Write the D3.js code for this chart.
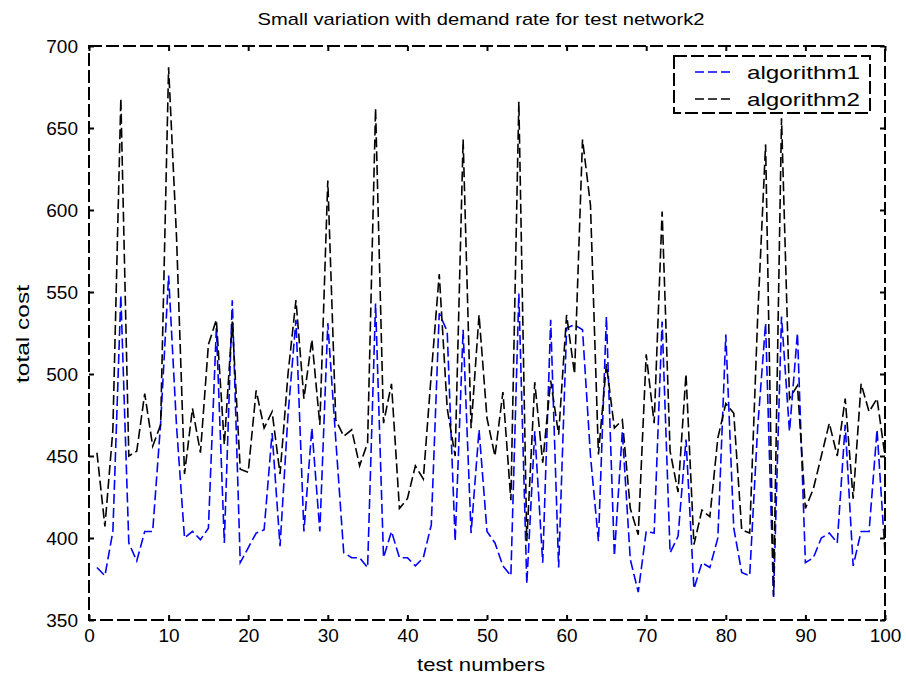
<!DOCTYPE html>
<html>
<head>
<meta charset="utf-8">
<script src="https://cdn.jsdelivr.net/npm/d3@7"></script>
<style>
  body { margin: 0; background: #fff; }
  svg text { font-family: "Liberation Sans", Arial, sans-serif; fill: #000; }
</style>
</head>
<body>
<div id="chart"></div>
<script>
// DATA
const testNumbers = d3.range(1, 101);
const algorithm1 = [
    382, 377, 404, 548, 397, 386, 404, 404, 470, 560,
    468, 400, 404, 399, 406, 528, 397, 545, 385, 394,
    403, 405, 464, 395, 475, 533, 404, 467, 404, 531,
    460, 391, 388, 388, 382, 543, 388, 404, 388, 388,
    383, 388, 408, 537, 526, 398, 527, 403, 466, 404,
    397, 383, 377, 549, 372, 465, 385, 533, 382, 528,
    530, 527, 450, 398, 535, 389, 465, 387, 367, 404,
    403, 532, 391, 401, 460, 369, 385, 382, 400, 524,
    406, 379, 377, 467, 531, 364, 535, 465, 525, 385,
    388, 400, 403, 397, 469, 383, 404, 404, 466, 391
];
const algorithm2 = [
    452, 407, 466, 668, 450, 453, 488, 456, 469, 687,
    583, 439, 479, 452, 518, 533, 457, 532, 442, 440,
    490, 467, 477, 439, 500, 545, 485, 521, 469, 618,
    472, 462, 466, 444, 458, 662, 470, 494, 418, 424,
    444, 436, 500, 561, 479, 450, 643, 467, 536, 473,
    450, 489, 423, 666, 398, 495, 446, 496, 463, 536,
    500, 643, 603, 451, 506, 467, 472, 418, 402, 512,
    470, 599, 453, 428, 500, 396, 417, 413, 461, 482,
    476, 405, 403, 534, 640, 365, 656, 485, 493, 418,
    430, 450, 470, 450, 485, 424, 494, 477, 485, 450
];
const seriesNames = ["algorithm1", "algorithm2"];
const seriesColors = ["#0000ff", "#000000"];
const xTicks = [0, 10, 20, 30, 40, 50, 60, 70, 80, 90, 100];
const yTicks = [350, 400, 450, 500, 550, 600, 650, 700];

// CHART VARIABLES
const width = 906;
const height = 682;
const margin = {top: 46, right: 21, bottom: 62, left: 89};
const plotW = width - margin.left - margin.right;
const plotH = height - margin.top - margin.bottom;

const svg = d3.select("#chart")
    .append("svg")
        .attr("width", width)
        .attr("height", height);

const xScale = d3.scaleLinear().domain([0, 100]).range([margin.left, margin.left + plotW]);
const yScale = d3.scaleLinear().domain([350, 700]).range([margin.top + plotH, margin.top]);

// lines
const line = d3.line()
    .x((d, i) => xScale(testNumbers[i]))
    .y(d => yScale(d));

[algorithm1, algorithm2].forEach((values, k) => {
    svg.append("path")
        .datum(values)
        .attr("d", line)
        .attr("fill", "none")
        .attr("stroke", seriesColors[k])
        .attr("stroke-width", 1.6)
        .attr("stroke-dasharray", "10,4");
});

// axes, ticks pointing inward on all four sides
const fmt = d3.format("d");
svg.append("g")
    .attr("transform", `translate(0,${margin.top + plotH})`)
    .call(d3.axisBottom(xScale).tickValues(xTicks).tickSize(-5).tickPadding(9).tickFormat(fmt))
    .call(g => g.select(".domain").remove());
svg.append("g")
    .attr("transform", `translate(0,${margin.top})`)
    .call(d3.axisTop(xScale).tickValues(xTicks).tickSize(-5).tickFormat(""))
    .call(g => g.select(".domain").remove());
svg.append("g")
    .attr("transform", `translate(${margin.left},0)`)
    .call(d3.axisLeft(yScale).tickValues(yTicks).tickSize(-5).tickPadding(11).tickFormat(fmt))
    .call(g => g.select(".domain").remove());
svg.append("g")
    .attr("transform", `translate(${margin.left + plotW},0)`)
    .call(d3.axisRight(yScale).tickValues(yTicks).tickSize(-5).tickFormat(""))
    .call(g => g.select(".domain").remove());

svg.selectAll(".tick line").attr("stroke", "#000").attr("stroke-width", 2);
svg.selectAll(".tick text")
    .style("font-family", "'Liberation Sans', Arial, sans-serif")
    .style("font-size", "19px");

// dashed frame
svg.append("rect")
    .attr("x", margin.left)
    .attr("y", margin.top)
    .attr("width", plotW)
    .attr("height", plotH)
    .attr("fill", "none")
    .attr("stroke", "#000")
    .attr("stroke-width", 2)
    .attr("stroke-dasharray", "13,4");

// title and axis labels
svg.append("text")
    .attr("x", 481)
    .attr("y", 25)
    .attr("text-anchor", "middle")
    .attr("textLength", 447)
    .attr("lengthAdjust", "spacingAndGlyphs")
    .style("font-size", "17px")
    .text("Small variation with demand rate for test network2");

svg.append("text")
    .attr("x", 481)
    .attr("y", 671)
    .attr("text-anchor", "middle")
    .attr("textLength", 128)
    .attr("lengthAdjust", "spacingAndGlyphs")
    .style("font-size", "19px")
    .text("test numbers");

svg.append("text")
    .attr("transform", "translate(29,334) rotate(-90)")
    .attr("text-anchor", "middle")
    .attr("textLength", 98)
    .attr("lengthAdjust", "spacingAndGlyphs")
    .style("font-size", "19px")
    .text("total cost");

// legend
const legend = svg.append("g").attr("transform", "translate(674,56)");
legend.append("rect")
    .attr("width", 196)
    .attr("height", 57)
    .attr("fill", "#fff")
    .attr("stroke", "#000")
    .attr("stroke-width", 2)
    .attr("stroke-dasharray", "13,4");

seriesNames.forEach((name, k) => {
    const ly = 16 + k * 27;
    legend.append("line")
        .attr("x1", 21).attr("x2", 58)
        .attr("y1", ly).attr("y2", ly)
        .attr("stroke", seriesColors[k])
        .attr("stroke-width", 1.5)
        .attr("stroke-dasharray", "9,4");
    legend.append("text")
        .attr("x", 73)
        .attr("y", ly + 7)
        .attr("textLength", 113)
        .attr("lengthAdjust", "spacingAndGlyphs")
        .style("font-size", "19px")
        .text(name);
});
</script>
</body>
</html>
